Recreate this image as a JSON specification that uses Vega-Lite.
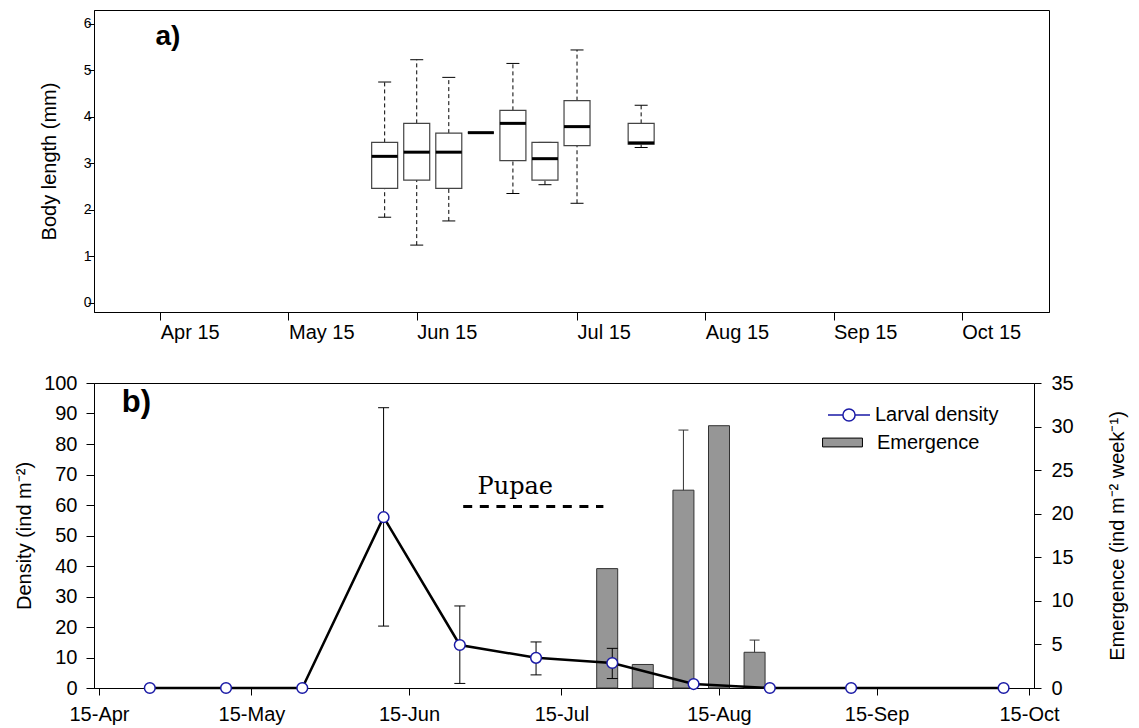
{
  "$schema": "https://vega.github.io/schema/vega-lite/v6.json",
  "background": "white",
  "padding": {"left": 14, "top": 9, "right": 3, "bottom": 5},
  "bounds": "flush",
  "spacing": 71,
  "resolve": {"legend": {"fill": "independent", "stroke": "independent"}},
  "config": {
    "font": "Liberation Sans",
    "view": {"stroke": "black", "strokeWidth": 1},
    "axis": {
      "domainColor": "black", "tickColor": "black", "labelColor": "black", "titleColor": "black",
      "titleFontWeight": "normal", "labelFont": "Liberation Sans", "titleFont": "Liberation Sans",
      "grid": false, "labelFontSize": 20, "titleFontSize": 20, "domainWidth": 1, "tickWidth": 1
    },
    "legend": {"labelColor": "black", "labelFontSize": 20, "labelFont": "Liberation Sans"}
  },
  "datasets": {
    "boxes": [
      {"sample": 0, "lo": 1.84, "q1": 2.46, "med": 3.15, "q3": 3.45, "hi": 4.75},
      {"sample": 1, "lo": 1.24, "q1": 2.64, "med": 3.24, "q3": 3.86, "hi": 5.23},
      {"sample": 2, "lo": 1.76, "q1": 2.46, "med": 3.24, "q3": 3.65, "hi": 4.85},
      {"sample": 3, "lo": 3.66, "q1": 3.66, "med": 3.66, "q3": 3.66, "hi": 3.66},
      {"sample": 4, "lo": 2.35, "q1": 3.06, "med": 3.86, "q3": 4.14, "hi": 5.15},
      {"sample": 5, "lo": 2.54, "q1": 2.64, "med": 3.10, "q3": 3.45, "hi": 3.45},
      {"sample": 6, "lo": 2.14, "q1": 3.38, "med": 3.79, "q3": 4.35, "hi": 5.44},
      {"sample": 8, "lo": 3.34, "q1": 3.41, "med": 3.44, "q3": 3.86, "hi": 4.25}
    ],
    "panelA": [{"label": "a)", "sample": -7.15, "len": 5.71}],
    "density": [
      {"date": "2007-04-25", "density": 0, "series": "Larval density"},
      {"date": "2007-05-10", "density": 0, "series": "Larval density"},
      {"date": "2007-05-25", "density": 0, "series": "Larval density"},
      {"date": "2007-06-10", "density": 56.0, "lo": 20.3, "hi": 91.9, "series": "Larval density"},
      {"date": "2007-06-25", "density": 14.1, "lo": 1.5, "hi": 26.9, "series": "Larval density"},
      {"date": "2007-07-10", "density": 9.9, "lo": 4.3, "hi": 15.1, "series": "Larval density"},
      {"date": "2007-07-25", "density": 8.2, "lo": 3.1, "hi": 13.0, "series": "Larval density"},
      {"date": "2007-08-10", "density": 1.3, "series": "Larval density"},
      {"date": "2007-08-25", "density": 0, "series": "Larval density"},
      {"date": "2007-09-10", "density": 0, "series": "Larval density"},
      {"date": "2007-10-10", "density": 0, "series": "Larval density"}
    ],
    "emergence": [
      {"date": "2007-07-24", "emergence": 13.7, "series": "Emergence"},
      {"date": "2007-07-31", "emergence": 2.7, "series": "Emergence"},
      {"date": "2007-08-08", "emergence": 22.7, "err": 29.6, "series": "Emergence"},
      {"date": "2007-08-15", "emergence": 30.1, "series": "Emergence"},
      {"date": "2007-08-22", "emergence": 4.1, "err": 5.5, "series": "Emergence"}
    ],
    "pupaeLine": [{"date": "2007-06-25T16:00:00Z", "end": "2007-07-23T06:00:00Z", "density": 59.5}],
    "pupaeLabel": [{"date": "2007-07-05T22:00:00Z", "density": 63.6, "label": "Pupae"}],
    "panelB": [{"label": "b)", "date": "2007-04-19T12:00:00Z", "density": 93.3}]
  },
  "vconcat": [
    {
      "width": 955,
      "height": 302,
      "encoding": {
        "x": {
          "field": "sample", "type": "quantitative",
          "scale": {"domain": [-8.91, 20.565], "nice": false, "zero": false},
          "axis": {
            "title": null, "values": [-7, -3, 1, 6, 10, 14, 18],
            "labelExpr": "datum.value == -7 ? 'Apr 15' : datum.value == -3 ? 'May 15' : datum.value == 1 ? 'Jun 15' : datum.value == 6 ? 'Jul 15' : datum.value == 10 ? 'Aug 15' : datum.value == 14 ? 'Sep 15' : 'Oct 15'",
            "labelAlign": "left", "labelFontSize": 20, "tickSize": 8, "labelPadding": 2,
            "labelOverlap": false, "labelFlush": false
          }
        }
      },
      "layer": [
        {
          "data": {"name": "boxes"},
          "mark": {"type": "rule", "strokeDash": [4, 3], "color": "black", "strokeWidth": 1},
          "encoding": {
            "y": {"field": "q3", "type": "quantitative", "scale": {"domain": [-0.2, 6.3], "nice": false, "zero": false},
              "axis": {"title": "Body length (mm)", "values": [0, 1, 2, 3, 4, 5, 6], "labelFontSize": 14, "tickSize": 6, "labelPadding": -3, "titlePadding": 24}},
            "y2": {"field": "hi"}
          }
        },
        {
          "data": {"name": "boxes"},
          "mark": {"type": "rule", "strokeDash": [4, 3], "color": "black", "strokeWidth": 1},
          "encoding": {
            "y": {"field": "lo", "type": "quantitative", "scale": {"domain": [-0.2, 6.3], "nice": false, "zero": false},
              "axis": {"title": "Body length (mm)", "values": [0, 1, 2, 3, 4, 5, 6], "labelFontSize": 14, "tickSize": 6, "labelPadding": -3, "titlePadding": 24}},
            "y2": {"field": "q1"}
          }
        },
        {
          "data": {"name": "boxes"},
          "mark": {"type": "tick", "orient": "horizontal", "size": 13, "thickness": 1, "color": "black", "opacity": 1},
          "encoding": {
            "y": {"field": "hi", "type": "quantitative", "scale": {"domain": [-0.2, 6.3], "nice": false, "zero": false},
              "axis": {"title": "Body length (mm)", "values": [0, 1, 2, 3, 4, 5, 6], "labelFontSize": 14, "tickSize": 6, "labelPadding": -3, "titlePadding": 24}}
          }
        },
        {
          "data": {"name": "boxes"},
          "mark": {"type": "tick", "orient": "horizontal", "size": 13, "thickness": 1, "color": "black", "opacity": 1},
          "encoding": {
            "y": {"field": "lo", "type": "quantitative", "scale": {"domain": [-0.2, 6.3], "nice": false, "zero": false},
              "axis": {"title": "Body length (mm)", "values": [0, 1, 2, 3, 4, 5, 6], "labelFontSize": 14, "tickSize": 6, "labelPadding": -3, "titlePadding": 24}}
          }
        },
        {
          "data": {"name": "boxes"},
          "mark": {"type": "bar", "width": 26, "fill": "white", "stroke": "#444444", "strokeWidth": 1.2},
          "encoding": {
            "y": {"field": "q1", "type": "quantitative", "scale": {"domain": [-0.2, 6.3], "nice": false, "zero": false},
              "axis": {"title": "Body length (mm)", "values": [0, 1, 2, 3, 4, 5, 6], "labelFontSize": 14, "tickSize": 6, "labelPadding": -3, "titlePadding": 24}},
            "y2": {"field": "q3"}
          }
        },
        {
          "data": {"name": "boxes"},
          "mark": {"type": "tick", "orient": "horizontal", "size": 26, "thickness": 3, "color": "black", "opacity": 1},
          "encoding": {
            "y": {"field": "med", "type": "quantitative", "scale": {"domain": [-0.2, 6.3], "nice": false, "zero": false},
              "axis": {"title": "Body length (mm)", "values": [0, 1, 2, 3, 4, 5, 6], "labelFontSize": 14, "tickSize": 6, "labelPadding": -3, "titlePadding": 24}}
          }
        },
        {
          "data": {"name": "panelA"},
          "mark": {"type": "text", "align": "left", "baseline": "middle", "fontSize": 28, "fontWeight": "bold", "color": "black"},
          "encoding": {
            "y": {"field": "len", "type": "quantitative", "scale": {"domain": [-0.2, 6.3], "nice": false, "zero": false},
              "axis": {"title": "Body length (mm)", "values": [0, 1, 2, 3, 4, 5, 6], "labelFontSize": 14, "tickSize": 6, "labelPadding": -3, "titlePadding": 24}},
            "text": {"field": "label"}
          }
        }
      ]
    },
    {
      "width": 940,
      "height": 305,
      "encoding": {
        "x": {
          "field": "date", "type": "temporal",
          "scale": {"type": "utc", "domain": [{"year": 2007, "month": 4, "date": 15, "utc": true}, {"year": 2007, "month": 10, "date": 15, "utc": true}]},
          "axis": {
            "title": null,
            "values": [
              {"year": 2007, "month": 4, "date": 15, "utc": true},
              {"year": 2007, "month": 5, "date": 15, "utc": true},
              {"year": 2007, "month": 6, "date": 15, "utc": true},
              {"year": 2007, "month": 7, "date": 15, "utc": true},
              {"year": 2007, "month": 8, "date": 15, "utc": true},
              {"year": 2007, "month": 9, "date": 15, "utc": true},
              {"year": 2007, "month": 10, "date": 15, "utc": true}
            ],
            "labelExpr": "utcFormat(datum.value, '%d-%b')", "tickSize": 7, "labelPadding": 9,
            "labelFontSize": 20, "labelOverlap": false, "labelFlush": false
          }
        }
      },
      "layer": [
        {
          "layer": [
            {
              "data": {"name": "emergence"},
              "mark": {"type": "bar", "width": 21, "stroke": "#333333", "strokeWidth": 1, "opacity": 1},
              "encoding": {
                "y": {"field": "emergence", "type": "quantitative", "scale": {"domain": [0, 35], "nice": false},
                  "axis": {"orient": "right", "title": "Emergence (ind m⁻² week⁻¹)", "titleAngle": 270, "values": [0, 5, 10, 15, 20, 25, 30, 35], "tickSize": 7, "labelPadding": 10, "titlePadding": 54}},
                "fill": {
                  "field": "series", "type": "nominal",
                  "scale": {"domain": ["Emergence"], "range": ["#969696"]},
                  "legend": {
                    "title": null, "orient": "none", "legendX": 727, "legendY": 38,
                    "symbolType": "M-0.95,-0.21H0.95V0.21H-0.95Z", "symbolSize": 1764,
                    "symbolStrokeColor": "black", "symbolStrokeWidth": 1, "labelOffset": 13
                  }
                }
              }
            },
            {
              "data": {"name": "emergence"},
              "transform": [{"filter": "isValid(datum.err)"}],
              "mark": {"type": "rule", "color": "#333333", "strokeWidth": 1},
              "encoding": {
                "y": {"field": "emergence", "type": "quantitative", "scale": {"domain": [0, 35], "nice": false},
                  "axis": {"orient": "right", "title": "Emergence (ind m⁻² week⁻¹)", "titleAngle": 270, "values": [0, 5, 10, 15, 20, 25, 30, 35], "tickSize": 7, "labelPadding": 10, "titlePadding": 54}},
                "y2": {"field": "err"}
              }
            },
            {
              "data": {"name": "emergence"},
              "transform": [{"filter": "isValid(datum.err)"}],
              "mark": {"type": "tick", "orient": "horizontal", "size": 10, "thickness": 1, "color": "#333333", "opacity": 1},
              "encoding": {
                "y": {"field": "err", "type": "quantitative", "scale": {"domain": [0, 35], "nice": false},
                  "axis": {"orient": "right", "title": "Emergence (ind m⁻² week⁻¹)", "titleAngle": 270, "values": [0, 5, 10, 15, 20, 25, 30, 35], "tickSize": 7, "labelPadding": 10, "titlePadding": 54}}
              }
            }
          ]
        },
        {
          "layer": [
            {
              "data": {"name": "density"},
              "mark": {"type": "line", "color": "black", "strokeWidth": 2.5},
              "encoding": {
                "y": {"field": "density", "type": "quantitative", "scale": {"domain": [0, 100], "nice": false},
                  "axis": {"orient": "left", "title": "Density (ind m⁻²)", "values": [0, 10, 20, 30, 40, 50, 60, 70, 80, 90, 100], "tickSize": 8, "labelPadding": 9, "titlePadding": 9}}
              }
            },
            {
              "data": {"name": "density"},
              "transform": [{"filter": "isValid(datum.lo)"}],
              "mark": {"type": "rule", "color": "black", "strokeWidth": 1},
              "encoding": {
                "y": {"field": "lo", "type": "quantitative", "scale": {"domain": [0, 100], "nice": false},
                  "axis": {"orient": "left", "title": "Density (ind m⁻²)", "values": [0, 10, 20, 30, 40, 50, 60, 70, 80, 90, 100], "tickSize": 8, "labelPadding": 9, "titlePadding": 9}},
                "y2": {"field": "hi"}
              }
            },
            {
              "data": {"name": "density"},
              "transform": [{"filter": "isValid(datum.lo)"}],
              "mark": {"type": "tick", "orient": "horizontal", "size": 11, "thickness": 1, "color": "black", "opacity": 1},
              "encoding": {
                "y": {"field": "lo", "type": "quantitative", "scale": {"domain": [0, 100], "nice": false},
                  "axis": {"orient": "left", "title": "Density (ind m⁻²)", "values": [0, 10, 20, 30, 40, 50, 60, 70, 80, 90, 100], "tickSize": 8, "labelPadding": 9, "titlePadding": 9}}
              }
            },
            {
              "data": {"name": "density"},
              "transform": [{"filter": "isValid(datum.hi)"}],
              "mark": {"type": "tick", "orient": "horizontal", "size": 11, "thickness": 1, "color": "black", "opacity": 1},
              "encoding": {
                "y": {"field": "hi", "type": "quantitative", "scale": {"domain": [0, 100], "nice": false},
                  "axis": {"orient": "left", "title": "Density (ind m⁻²)", "values": [0, 10, 20, 30, 40, 50, 60, 70, 80, 90, 100], "tickSize": 8, "labelPadding": 9, "titlePadding": 9}}
              }
            },
            {
              "data": {"name": "density"},
              "mark": {"type": "point", "shape": "circle", "filled": false, "fill": "white", "size": 115, "strokeWidth": 1.5, "opacity": 1},
              "encoding": {
                "y": {"field": "density", "type": "quantitative", "scale": {"domain": [0, 100], "nice": false},
                  "axis": {"orient": "left", "title": "Density (ind m⁻²)", "values": [0, 10, 20, 30, 40, 50, 60, 70, 80, 90, 100], "tickSize": 8, "labelPadding": 9, "titlePadding": 9}},
                "stroke": {
                  "field": "series", "type": "nominal",
                  "scale": {"domain": ["Larval density"], "range": ["#1a1aa6"]},
                  "legend": {
                    "title": null, "orient": "none", "legendX": 733, "legendY": 10,
                    "symbolType": "M-1,0H-0.29M0.29,0H1M0.29,0A0.29,0.29 0 1,1 -0.29,0A0.29,0.29 0 1,1 0.29,0Z",
                    "symbolSize": 1764, "symbolStrokeWidth": 1.5, "symbolFillColor": "white", "labelOffset": 4
                  }
                }
              }
            },
            {
              "data": {"name": "pupaeLine"},
              "mark": {"type": "rule", "color": "black", "strokeWidth": 3, "strokeDash": [9, 7.6]},
              "encoding": {
                "x2": {"field": "end"},
                "y": {"field": "density", "type": "quantitative", "scale": {"domain": [0, 100], "nice": false},
                  "axis": {"orient": "left", "title": "Density (ind m⁻²)", "values": [0, 10, 20, 30, 40, 50, 60, 70, 80, 90, 100], "tickSize": 8, "labelPadding": 9, "titlePadding": 9}}
              }
            },
            {
              "data": {"name": "pupaeLabel"},
              "mark": {"type": "text", "font": "DejaVu Serif", "fontSize": 24, "align": "center", "baseline": "alphabetic", "color": "black"},
              "encoding": {
                "y": {"field": "density", "type": "quantitative", "scale": {"domain": [0, 100], "nice": false},
                  "axis": {"orient": "left", "title": "Density (ind m⁻²)", "values": [0, 10, 20, 30, 40, 50, 60, 70, 80, 90, 100], "tickSize": 8, "labelPadding": 9, "titlePadding": 9}},
                "text": {"field": "label"}
              }
            },
            {
              "data": {"name": "panelB"},
              "mark": {"type": "text", "align": "left", "baseline": "middle", "fontSize": 31, "fontWeight": "bold", "color": "black"},
              "encoding": {
                "y": {"field": "density", "type": "quantitative", "scale": {"domain": [0, 100], "nice": false},
                  "axis": {"orient": "left", "title": "Density (ind m⁻²)", "values": [0, 10, 20, 30, 40, 50, 60, 70, 80, 90, 100], "tickSize": 8, "labelPadding": 9, "titlePadding": 9}},
                "text": {"field": "label"}
              }
            }
          ]
        }
      ],
      "resolve": {"scale": {"y": "independent"}}
    }
  ]
}
